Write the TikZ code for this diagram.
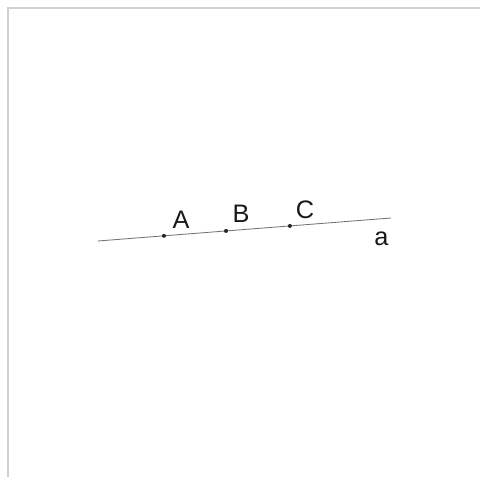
\documentclass[tikz,border=0pt]{standalone}
\usepackage{fontspec}
\setmainfont{Liberation Sans}
\usepackage{tikz}
\usetikzlibrary{positioning, calc}

\begin{document}
\begin{tikzpicture}[x=0.025cm, y=-0.025cm,
    lbl/.style={font=\fontsize{18}{21}\selectfont, inner sep=0pt, text=black!90}]
    \useasboundingbox (0,0) rectangle (480,477);
    % Frame
    \draw[black!18, line width=1.4pt] (8,477) -- (8,8) -- (480,8);

    % Line a
    \coordinate (a1) at (98,241);
    \coordinate (a2) at (391,218);
    \draw[black!55, line width=0.6pt] (a1) -- (a2);

    % Points on the line
    \coordinate (ptA) at ($(a1)!0.225!(a2)$);
    \coordinate (ptB) at ($(a1)!0.437!(a2)$);
    \coordinate (ptC) at ($(a1)!0.655!(a2)$);
    \fill[black!85] (ptA) circle (2);
    \fill[black!85] (ptB) circle (2);
    \fill[black!85] (ptC) circle (2);

    \node[lbl] (labA) at (181,219.5) {A};
    \node[lbl] (labB) at (241,214) {B};
    \node[lbl] (labC) at (305,210) {C};
    \node[lbl] (laba) at (381.5,238.5) {a};
\end{tikzpicture}
\end{document}
